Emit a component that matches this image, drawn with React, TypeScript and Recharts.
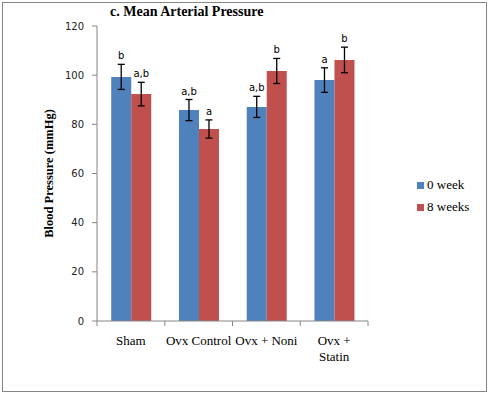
import React from "react";
import { Bar, BarChart, ErrorBar, LabelList, Legend, XAxis, YAxis } from "recharts";

const groups = ["Sham", "Ovx Control", "Ovx + Noni", "Ovx + Statin"];
const week0 = [99.3, 85.8, 87.1, 98.0];
const week0Err = [5.1, 4.3, 4.3, 5.0];
const week0Letters = ["b", "a,b", "a,b", "a"];
const week8 = [92.3, 78.1, 101.7, 106.2];
const week8Err = [4.8, 3.7, 5.1, 5.2];
const week8Letters = ["a,b", "a", "b", "b"];
const yTicks = [0, 20, 40, 60, 80, 100, 120];

const W = 489;
const H = 394;
const MARGIN = { top: 26, right: 121, bottom: 33, left: 0 };
const Y_W = 97;
const BAND = (W - MARGIN.left - MARGIN.right - Y_W) / groups.length;
const AXIS = "#868686";
const SERIF = "'Liberation Serif', 'Times New Roman', serif";
const SANS = "'DejaVu Sans', Verdana, sans-serif";

const rows = groups.map((g, i) => ({
  group: g,
  w0: week0[i],
  w0Err: week0Err[i],
  w8: week8[i],
  w8Err: week8Err[i],
}));

// letters sit just above the error bar cap
function letterLabel(letters: string[], errs: number[]) {
  return (p: any) => {
    const { x, y, width, height, value, index } = p;
    const pxPerUnit = height / value;
    const top = y - errs[index] * pxPerUnit;
    return (
      <text x={x + width / 2} y={top - 5} textAnchor="middle" fontSize={10} fontFamily={SANS} fill="#000">
        {letters[index]}
      </text>
    );
  };
}

// category label plus tick marks on the band edges
function GroupTick(p: any) {
  const { x, y, payload, index } = p;
  const label: string = payload.value;
  let lines = [label];
  if (label.length > 11) {
    const cut = label.lastIndexOf(" ");
    lines = [label.slice(0, cut), label.slice(cut + 1)];
  }
  return (
    <g>
      <line x1={x - BAND / 2} x2={x - BAND / 2} y1={y} y2={y + 5} stroke={AXIS} />
      {index === groups.length - 1 && (
        <line x1={x + BAND / 2} x2={x + BAND / 2} y1={y} y2={y + 5} stroke={AXIS} />
      )}
      <text x={x} y={y + 24} textAnchor="middle" fontSize={13} fontFamily={SERIF} fill="#000">
        {lines.map((l, i) => (
          <tspan key={i} x={x} dy={i === 0 ? 0 : 16}>
            {l}
          </tspan>
        ))}
      </text>
    </g>
  );
}

function LegendBox(p: any) {
  return (
    <div style={{ fontFamily: SERIF, fontSize: 13, color: "#000" }}>
      {p.payload.map((e: any) => (
        <div key={e.value} style={{ display: "flex", alignItems: "center", height: 22 }}>
          <span style={{ width: 7, height: 7, background: e.color, marginRight: 3 }} />
          {e.value}
        </div>
      ))}
    </div>
  );
}

export default function App() {
  return (
    <div style={{ position: "absolute", left: 0, top: 0, width: W, height: H, background: "#fff" }}>
      <div
        style={{
          position: "absolute",
          left: 2,
          top: 2,
          width: 483,
          height: 388,
          border: `1.5px solid ${AXIS}`,
        }}
      />
      <div
        style={{
          position: "absolute",
          left: 110,
          top: 4,
          fontFamily: SERIF,
          fontWeight: "bold",
          fontSize: 14,
        }}
      >
        c. Mean Arterial Pressure
      </div>
      <BarChart width={W} height={H} data={rows} margin={MARGIN} barCategoryGap="21%" barGap={0}>
        <XAxis
          dataKey="group"
          height={40}
          stroke={AXIS}
          tickLine={false}
          tickSize={0}
          tickMargin={0}
          interval={0}
          tick={<GroupTick />}
        />
        <YAxis
          width={Y_W}
          domain={[0, 120]}
          ticks={yTicks}
          stroke={AXIS}
          tickSize={5}
          tickMargin={8}
          tick={{ fontSize: 10, fontFamily: SANS, fill: "#222" }}
          label={(p: any) => {
            const vb = p.viewBox;
            const cx = 49;
            const cy = vb.y + vb.height / 2;
            return (
              <text
                x={cx}
                y={cy}
                transform={`rotate(-90 ${cx} ${cy})`}
                textAnchor="middle"
                dominantBaseline="central"
                fontSize={12.5}
                fontWeight="bold"
                fontFamily={SERIF}
              >
                Blood Pressure (mmHg)
              </text>
            );
          }}
        />
        <Legend
          layout="horizontal"
          align="center"
          verticalAlign="middle"
          content={<LegendBox />}
          wrapperStyle={{ position: "absolute", left: 417, top: 174, width: 70 }}
        />
        <Bar dataKey="w0" name="0 week" fill="#4F81BD" isAnimationActive={false}>
          <ErrorBar dataKey="w0Err" width={3.5} stroke="#000" strokeWidth={1.3} />
          <LabelList dataKey="w0" content={letterLabel(week0Letters, week0Err)} />
        </Bar>
        <Bar dataKey="w8" name="8 weeks" fill="#C0504D" isAnimationActive={false}>
          <ErrorBar dataKey="w8Err" width={3.5} stroke="#000" strokeWidth={1.3} />
          <LabelList dataKey="w8" content={letterLabel(week8Letters, week8Err)} />
        </Bar>
      </BarChart>
    </div>
  );
}
